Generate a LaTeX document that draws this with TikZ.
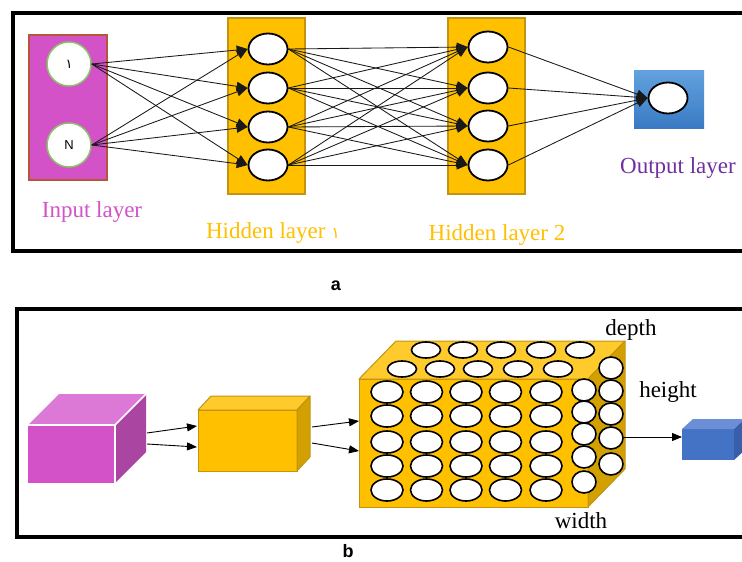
\documentclass[tikz,border=0pt]{standalone}
\usepackage{fontspec}
\setmainfont{Liberation Serif}
\newfontfamily\arabicfont[Script=Arabic]{DejaVu Sans}
\newfontfamily\lsans{Liberation Sans}
\usetikzlibrary{shapes.geometric,arrows.meta}
\definecolor{mag}{HTML}{D452C8}
\definecolor{magtop}{HTML}{DC78D6}
\definecolor{magside}{HTML}{AA46A2}
\definecolor{magborder}{HTML}{B5553A}
\definecolor{ringgreen}{HTML}{8CC26A}
\definecolor{gold}{HTML}{FFC000}
\definecolor{goldtop}{HTML}{FFCA2C}
\definecolor{goldside}{HTML}{D2A000}
\definecolor{goldborder}{HTML}{C39412}
\definecolor{purp}{HTML}{7030A0}
\definecolor{bluelight}{HTML}{62A2DE}
\definecolor{bluedark}{HTML}{3A7AC4}
\definecolor{cubeblue}{HTML}{4472C4}
\definecolor{cubebluetop}{HTML}{6B8ED6}
\definecolor{cubeblueside}{HTML}{3A5FAA}
\tikzset{
  panel/.style={draw=black, line width=4pt},
  layerbox/.style={rectangle, inner sep=0pt, outer sep=0pt},
  neuron/.style={ellipse, draw=black, fill=white, line width=1.8pt, minimum width=39pt, minimum height=31pt, inner sep=0pt},
  inneuron/.style={circle, draw=ringgreen, fill=white, line width=1.5pt, minimum size=44pt, inner sep=0pt},
  link/.style={draw=black!90, line width=0.85pt, -{Triangle[length=11pt,width=9pt]}},
  flow/.style={draw=black, line width=0.9pt, -{Triangle[length=10pt,width=8pt]}},
  lbl/.style={anchor=base, font=\fontsize{23}{27}\selectfont, inner sep=0pt},
  dimlbl/.style={anchor=base, font=\fontsize{23}{27}\selectfont, inner sep=0pt},
  panellbl/.style={anchor=base, font=\lsans\bfseries\fontsize{18}{21}\selectfont, inner sep=0pt},
  cubefront/.style={rectangle, inner sep=0pt, outer sep=0pt},
  cellbig/.style={ellipse, draw=black, fill=white, line width=1.6pt, minimum width=32pt, minimum height=22pt, inner sep=0pt},
  celltop/.style={ellipse, draw=black, fill=white, line width=1.6pt, minimum width=29pt, minimum height=16pt, inner sep=0pt},
  cellside/.style={ellipse, draw=black, fill=white, line width=1.6pt, minimum width=24pt, minimum height=22pt, inner sep=0pt},
}
\begin{document}
\begin{tikzpicture}[x=1pt,y=-1pt]
\useasboundingbox (0,0) rectangle (742,562);
\fill[white] (0,0) rectangle (742,562);

% ---------------- panel a ----------------
\draw[panel] (13,13) rectangle (770,251);

\node[layerbox, fill=mag, draw=magborder, line width=1.2pt, minimum width=78pt, minimum height=145pt] (inbox) at (68,107.5) {};
\node[layerbox, fill=gold, draw=goldborder, line width=1.2pt, minimum width=77pt, minimum height=176pt] (hbox1) at (266.5,106) {};
\node[layerbox, fill=gold, draw=goldborder, line width=1.2pt, minimum width=77pt, minimum height=176pt] (hbox2) at (486.5,106) {};
\node[layerbox, top color=bluelight, bottom color=bluedark, minimum width=70pt, minimum height=58pt] (obox) at (669,99) {};

\node[inneuron] (i1) at (69,64) {\arabicfont\fontsize{13}{15}\selectfont ١};
\node[inneuron] (i2) at (69,145) {\lsans\fontsize{13}{15}\selectfont N};

\node[neuron] (a1) at (268,49) {};
\node[neuron] (a2) at (268,88) {};
\node[neuron] (a3) at (268,127) {};
\node[neuron] (a4) at (268,165) {};

\node[neuron] (b1) at (488,47) {};
\node[neuron] (b2) at (488,88) {};
\node[neuron] (b3) at (488,126) {};
\node[neuron] (b4) at (488,165) {};

\node[neuron] (o) at (668,98) {};

\foreach \s in {i1,i2}{
  \foreach \t in {a1,a2,a3,a4}{
    \draw[link] (\s.east) -- (\t.west);
  }
}
\foreach \s in {a1,a2,a3,a4}{
  \foreach \t in {b1,b2,b3,b4}{
    \draw[link] (\s.east) -- (\t.west);
  }
}
\foreach \s in {b1,b2,b3,b4}{
  \draw[link] (\s.east) -- (o.west);
}

\node[lbl, text=mag] (lin) at (92,217) {Input layer};
\node[lbl, text=gold] (lh1) at (273,238) {Hidden layer {\arabicfont\fontsize{16}{18}\selectfont ١}};
\node[lbl, text=gold] (lh2) at (497,240) {Hidden layer 2};
\node[lbl, text=purp] (lout) at (678,173) {Output layer};

\node[panellbl] (pa) at (336,290) {a};

% ---------------- panel b ----------------
\draw[panel] (17,309) rectangle (770,537);

% magenta cube
\node[cubefront, fill=mag, minimum width=87pt, minimum height=58pt] (mc) at (71.5,454) {};
\fill[magtop] (mc.north west) -- ++(31,-31) -- ++(87,0) -- (mc.north east) -- cycle;
\fill[magside] (mc.north east) -- ++(31,-31) -- ++(0,58) -- (mc.south east) -- cycle;
\draw[white, line width=1.5pt, line join=round] (mc.north west) -- (mc.north east) -- (mc.south east);
\draw[white, line width=1.5pt] (mc.north east) -- ++(31,-31);

% yellow cube
\node[cubefront, fill=gold, minimum width=99pt, minimum height=61pt] (yc) at (247.5,440.5) {};
\filldraw[fill=goldtop, draw=goldborder, line width=1pt, line join=round] (yc.north west) -- ++(13,-14) -- ++(99,0) -- (yc.north east) -- cycle;
\filldraw[fill=goldside, draw=goldborder, line width=1pt, line join=round] (yc.north east) -- ++(13,-14) -- ++(0,61) -- (yc.south east) -- cycle;
\draw[goldborder, line width=1pt] (yc.north west) rectangle (yc.south east);

% big box
\node[cubefront, fill=gold, minimum width=229pt, minimum height=128pt] (bb) at (473.5,443) {};
\filldraw[fill=goldtop, draw=goldborder, line width=1pt, line join=round] (bb.north west) -- ++(37,-38) -- ++(229,0) -- (bb.north east) -- cycle;
\filldraw[fill=goldside, draw=goldborder, line width=1pt, line join=round] (bb.north east) -- ++(37,-38) -- ++(0,128) -- (bb.south east) -- cycle;
\draw[goldborder, line width=1pt] (bb.north west) rectangle (bb.south east);

% top cells
\foreach \x in {426,463,501,541,580}{ \node[celltop] at (\x,350) {}; }
\foreach \x in {402,440,478,518,558}{ \node[celltop] at (\x,369) {}; }
% front cells
\foreach \x in {387,426.5,466,505.5,546}{
  \foreach \y in {392,416,442,466,490}{
    \node[cellbig] at (\x,\y) {};
  }
}
% side cells
\foreach \y in {390,412,434,457,482}{ \node[cellside] at (584,\y) {}; }
\foreach \y in {368,391,414,438,464}{ \node[cellside] at (611,\y) {}; }

% blue cube
\node[cubefront, fill=cubeblue, minimum width=52pt, minimum height=31pt] (bc) at (708,444.5) {};
\fill[cubebluetop] (bc.north west) -- ++(11,-10) -- ++(52,0) -- (bc.north east) -- cycle;
\fill[cubeblueside] (bc.north east) -- ++(11,-10) -- ++(0,31) -- (bc.south east) -- cycle;

% connectors
\coordinate (m1s) at (147,433);
\coordinate (m2s) at (147,444);
\coordinate (y1e) at (197,426);
\coordinate (y2e) at (197,447);
\coordinate (y1s) at (312,427);
\coordinate (y2s) at (312,443);
\coordinate (g1e) at (359,421);
\coordinate (g2e) at (359,451);
\coordinate (gs) at (624,437);
\coordinate (be) at (682,437);
\draw[flow] (m1s) -- (y1e);
\draw[flow] (m2s) -- (y2e);
\draw[flow] (y1s) -- (g1e);
\draw[flow] (y2s) -- (g2e);
\draw[flow] (gs) -- (be);

\node[dimlbl] (ldepth) at (631,335) {depth};
\node[dimlbl] (lheight) at (668,397) {height};
\node[dimlbl] (lwidth) at (581,528) {width};

\node[panellbl] (pb) at (348,557) {b};
\end{tikzpicture}
\end{document}
